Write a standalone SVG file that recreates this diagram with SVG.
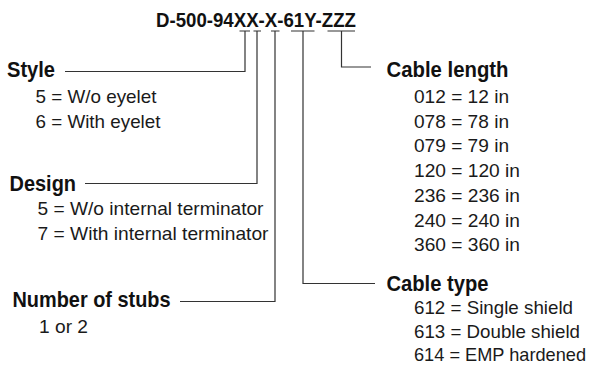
<svg xmlns="http://www.w3.org/2000/svg" width="592" height="373" viewBox="0 0 592 373">
<style>
.t{font-family:"Liberation Sans",Arial,sans-serif;font-weight:bold;font-size:21px;fill:#111}
.h{font-family:"Liberation Sans",Arial,sans-serif;font-weight:bold;font-size:22px;fill:#111}
.v{font-family:"Liberation Sans",Arial,sans-serif;font-size:19px;fill:#1a1a1a}
.c{fill:none;stroke:#333;stroke-width:1.2}
</style>
<rect width="592" height="373" fill="#fff"/>
<g id="part-number">
<text class="t" x="156" y="27" textLength="200" lengthAdjust="spacingAndGlyphs">D-500-94XX-X-61Y-ZZZ</text>
</g>
<g id="connectors">
<path class="c" d="M239.5 31H250M253.5 31H261M271 31H279.5M291 31H314.5M327.5 31H355"/>
<path class="c" d="M245 31V71.5H65"/>
<path class="c" d="M257 31V183.5H85"/>
<path class="c" d="M275 31V301.5H180"/>
<path class="c" d="M303 31V283.5H375"/>
<path class="c" d="M341.5 31V67H371"/>
</g>
<g id="style">
<text class="h" x="7" y="76.5" textLength="48" lengthAdjust="spacingAndGlyphs">Style</text>
<text class="v" x="35.5" y="103" textLength="121" lengthAdjust="spacingAndGlyphs">5 = W/o eyelet</text>
<text class="v" x="35.5" y="127.5" textLength="125" lengthAdjust="spacingAndGlyphs">6 = With eyelet</text>
</g>
<g id="design">
<text class="h" x="9.5" y="190.5" textLength="66.5" lengthAdjust="spacingAndGlyphs">Design</text>
<text class="v" x="37.5" y="215" textLength="226" lengthAdjust="spacingAndGlyphs">5 = W/o internal terminator</text>
<text class="v" x="37.5" y="240" textLength="231" lengthAdjust="spacingAndGlyphs">7 = With internal terminator</text>
</g>
<g id="stubs">
<text class="h" x="12.5" y="307" textLength="158" lengthAdjust="spacingAndGlyphs">Number of stubs</text>
<text class="v" x="39" y="333" textLength="49" lengthAdjust="spacingAndGlyphs">1 or 2</text>
</g>
<g id="cable-length">
<text class="h" x="386.5" y="76.5" textLength="122" lengthAdjust="spacingAndGlyphs">Cable length</text>
<text class="v" x="414" y="103" textLength="95" lengthAdjust="spacingAndGlyphs">012 = 12 in</text>
<text class="v" x="414" y="127.7" textLength="95" lengthAdjust="spacingAndGlyphs">078 = 78 in</text>
<text class="v" x="414" y="152.4" textLength="95" lengthAdjust="spacingAndGlyphs">079 = 79 in</text>
<text class="v" x="414" y="177.1" textLength="106" lengthAdjust="spacingAndGlyphs">120 = 120 in</text>
<text class="v" x="414" y="201.8" textLength="106" lengthAdjust="spacingAndGlyphs">236 = 236 in</text>
<text class="v" x="414" y="226.5" textLength="106" lengthAdjust="spacingAndGlyphs">240 = 240 in</text>
<text class="v" x="414" y="251.2" textLength="106" lengthAdjust="spacingAndGlyphs">360 = 360 in</text>
</g>
<g id="cable-type">
<text class="h" x="386.5" y="291" textLength="102" lengthAdjust="spacingAndGlyphs">Cable type</text>
<text class="v" x="414" y="314" textLength="159" lengthAdjust="spacingAndGlyphs">612 = Single shield</text>
<text class="v" x="414" y="338" textLength="166" lengthAdjust="spacingAndGlyphs">613 = Double shield</text>
<text class="v" x="414" y="361" font-size="18" textLength="172" lengthAdjust="spacingAndGlyphs">614 = EMP hardened</text>
</g>
</svg>
